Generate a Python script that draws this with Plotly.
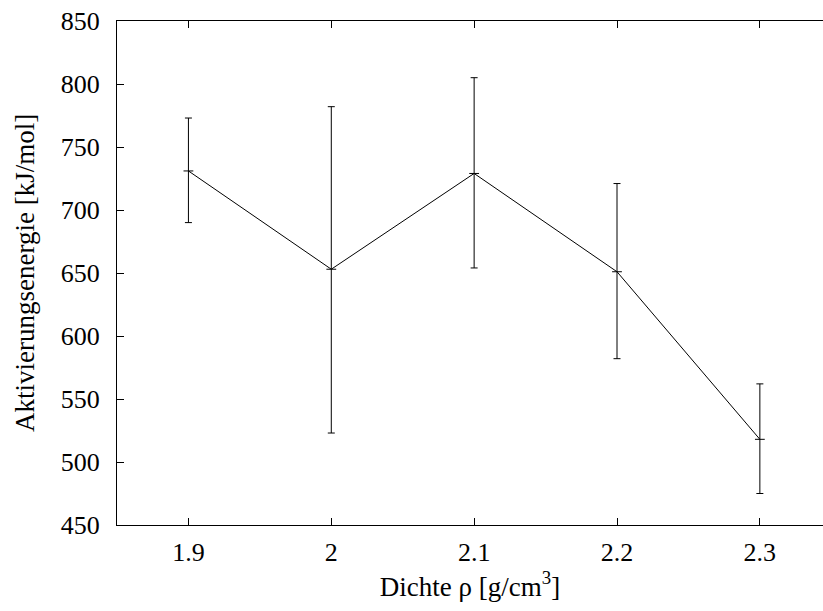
import plotly.graph_objects as go

# Dichte (g/cm^3) and Aktivierungsenergie (kJ/mol) with asymmetric error bounds
density = [1.9, 2.0, 2.1, 2.2, 2.3]
energy = [731, 653, 729, 651, 518]
energy_upper = [773, 782, 805, 721, 562]
energy_lower = [690, 523, 654, 582, 475]

tick_vals = [1.9, 2.0, 2.1, 2.2, 2.3]
tick_text = ["1.9", "2", "2.1", "2.2", "2.3"]

x_range = [1.85, 2.3442]
y_range = [450, 850]

err_plus = [u - v for u, v in zip(energy_upper, energy)]
err_minus = [v - l for v, l in zip(energy, energy_lower)]

font_family = "Liberation Serif"
text_font = dict(family=font_family, size=26, color="black")
title_font = dict(family=font_family, size=27, color="black")

fig = go.Figure()
fig.add_trace(go.Scatter(
    x=density,
    y=energy,
    mode="lines+markers",
    line=dict(color="black", width=1),
    marker=dict(symbol="line-ew", size=7, color="black",
                line=dict(color="black", width=1)),
    error_y=dict(type="data", symmetric=False, array=err_plus,
                 arrayminus=err_minus, color="black", thickness=1, width=3.5),
    showlegend=False,
))
# Invisible copy on the overlay axes so the frame/tick axes get rendered
fig.add_trace(go.Scatter(
    x=density,
    y=energy,
    xaxis="x2",
    yaxis="y2",
    mode="lines",
    line=dict(width=0, color="rgba(0,0,0,0)"),
    hoverinfo="skip",
    showlegend=False,
))

# Primary axes carry the labels (transparent outside ticks give the gap);
# overlay axes draw the inward tick marks and the frame.
fig.update_layout(
    width=823,
    height=611,
    margin=dict(l=117, r=0, t=21, b=86),
    paper_bgcolor="white",
    plot_bgcolor="white",
    font=text_font,
    xaxis=dict(
        range=x_range,
        tickvals=tick_vals,
        ticktext=tick_text,
        tickfont=text_font,
        ticks="outside",
        ticklen=4,
        tickcolor="rgba(0,0,0,0)",
        showline=False,
        showgrid=False,
        zeroline=False,
        title=dict(text="Dichte ρ [g/cm<sup>3</sup>]", standoff=6,
                   font=title_font),
    ),
    yaxis=dict(
        range=y_range,
        dtick=50,
        tick0=450,
        tickfont=text_font,
        ticks="outside",
        ticklen=11,
        tickcolor="rgba(0,0,0,0)",
        showline=False,
        showgrid=False,
        zeroline=False,
    ),
    xaxis2=dict(
        overlaying="x",
        matches="x",
        range=x_range,
        tickvals=tick_vals,
        showticklabels=False,
        ticks="inside",
        ticklen=7,
        tickcolor="black",
        tickwidth=1,
        showline=True,
        linecolor="black",
        linewidth=1,
        mirror="ticks",
        showgrid=False,
        zeroline=False,
    ),
    yaxis2=dict(
        overlaying="y",
        matches="y",
        range=y_range,
        dtick=50,
        tick0=450,
        showticklabels=False,
        ticks="inside",
        ticklen=7,
        tickcolor="black",
        tickwidth=1,
        showline=True,
        linecolor="black",
        linewidth=1,
        mirror=False,
        showgrid=False,
        zeroline=False,
    ),
    annotations=[dict(
        text="Aktivierungsenergie [kJ/mol]",
        xref="paper", yref="paper",
        x=-92 / 706, y=0.5,
        xanchor="center", yanchor="middle",
        textangle=-90,
        showarrow=False,
        font=title_font,
    )],
)

fig.write_html("out.html")
